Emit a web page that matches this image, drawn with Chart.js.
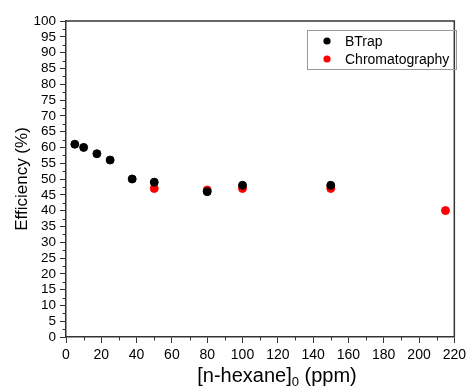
<!DOCTYPE html>
<html><head><meta charset="utf-8">
<script src="https://cdn.jsdelivr.net/npm/chart.js@4"></script>
<style>html,body{margin:0;padding:0;background:#fff}#wrap{width:470px;height:386px}</style>
</head><body><div id="wrap"><canvas id="c" width="470" height="386"></canvas></div>
<script>
const btrapX = [5, 10, 17.5, 25, 37.5, 50, 80, 100, 150];
const btrapY = [61, 60, 58, 56, 50, 49, 46, 48, 48];
const chromX = [50, 80, 100, 150, 215];
const chromY = [47, 46.5, 47, 47, 40];
const seriesNames = ['BTrap', 'Chromatography'];
const xTitleParts = ['[n-hexane]', '0', ' (ppm)'];
const yTitle = 'Efficiency (%)';

const FONT = "'Liberation Sans', Arial, sans-serif";
const AX = '#333333';

const framePlugin = {
  id: 'frame',
  afterDraw(chart) {
    const {ctx, chartArea: a, scales} = chart;
    ctx.save();
    ctx.strokeStyle = AX;
    ctx.lineWidth = 1.5;
    ctx.beginPath();
    ctx.moveTo(a.left, a.top); ctx.lineTo(a.right, a.top); ctx.lineTo(a.right, a.bottom);
    ctx.stroke();
    ctx.lineWidth = 1;
    // minor ticks
    ctx.beginPath();
    for (let v = 10; v < 220; v += 20) {
      const px = Math.round(scales.x.getPixelForValue(v)) + 0.5;
      ctx.moveTo(px, a.bottom); ctx.lineTo(px, a.bottom + 3.5);
    }
    for (let v = 2.5; v < 100; v += 5) {
      const py = Math.round(scales.y.getPixelForValue(v)) + 0.5;
      ctx.moveTo(a.left, py); ctx.lineTo(a.left - 3.5, py);
    }
    ctx.stroke();
    // x axis title with subscript
    ctx.fillStyle = '#000';
    ctx.textBaseline = 'alphabetic';
    ctx.textAlign = 'left';
    const big = '20px ' + FONT, small = '13px ' + FONT;
    ctx.font = big; const w0 = ctx.measureText(xTitleParts[0]).width; const w2 = ctx.measureText(xTitleParts[2]).width;
    ctx.font = small; const w1 = ctx.measureText(xTitleParts[1]).width;
    const total = w0 + w1 + w2;
    let tx = 277 - total / 2;
    const base = 382;
    ctx.font = big; ctx.fillText(xTitleParts[0], tx, base); tx += w0;
    ctx.font = small; ctx.fillText(xTitleParts[1], tx, base + 4); tx += w1;
    ctx.font = big; ctx.fillText(xTitleParts[2], tx, base);
    // legend
    const bx = 307, by = 30, bw = 149, bh = 39;
    ctx.strokeStyle = '#999';
    ctx.lineWidth = 1;
    ctx.strokeRect(bx + 0.5, by + 0.5, bw, bh);
    ctx.font = '14px ' + FONT;
    ctx.textBaseline = 'middle';
    chart.data.datasets.forEach((ds, i) => {
      const cy = by + 11 + i * 18;
      ctx.fillStyle = ds.backgroundColor;
      ctx.beginPath(); ctx.arc(bx + 20, cy, 3.6, 0, Math.PI * 2); ctx.fill();
      ctx.fillStyle = '#000';
      ctx.fillText(ds.label, bx + 38, cy + 1);
    });
    ctx.restore();
  }
};

new Chart(document.getElementById('c'), {
  type: 'scatter',
  data: {
    datasets: [
      { label: seriesNames[0], data: btrapX.map((x, i) => ({x, y: btrapY[i]})), backgroundColor: '#000000', borderColor: '#000000', borderWidth: 1, pointRadius: 4, pointHoverRadius: 4 },
      { label: seriesNames[1], data: chromX.map((x, i) => ({x, y: chromY[i]})), backgroundColor: '#ff0000', borderColor: '#ff0000', borderWidth: 1, pointRadius: 4, pointHoverRadius: 4 }
    ]
  },
  options: {
    responsive: false,
    animation: false,
    layout: { padding: { top: 21, right: 11, left: 0, bottom: 0 } },
    plugins: { legend: { display: false }, tooltip: { enabled: false } },
    scales: {
      x: {
        type: 'linear', min: 0, max: 220,
        afterFit(s) { s.height = 49; },
        ticks: { stepSize: 20, autoSkip: false, color: '#000', font: { family: FONT, size: 14 }, padding: 4, maxRotation: 0 },
        grid: { drawOnChartArea: false, drawTicks: true, tickLength: 6, color: AX, lineWidth: 1 },
        border: { display: true, color: AX, width: 1.5 },
        title: { display: false }
      },
      y: {
        type: 'linear', min: 0, max: 100,
        afterFit(s) { s.width = 66; },
        ticks: { stepSize: 5, autoSkip: false, color: '#000', font: { family: FONT, size: 13.5 }, padding: 4 },
        grid: { drawOnChartArea: false, drawTicks: true, tickLength: 6, color: AX, lineWidth: 1 },
        border: { display: true, color: AX, width: 1.5 },
        title: { display: true, text: yTitle, color: '#000', font: { family: FONT, size: 17 }, padding: { top: 12, bottom: 0 } }
      }
    }
  },
  plugins: [framePlugin]
});
</script></body></html>
